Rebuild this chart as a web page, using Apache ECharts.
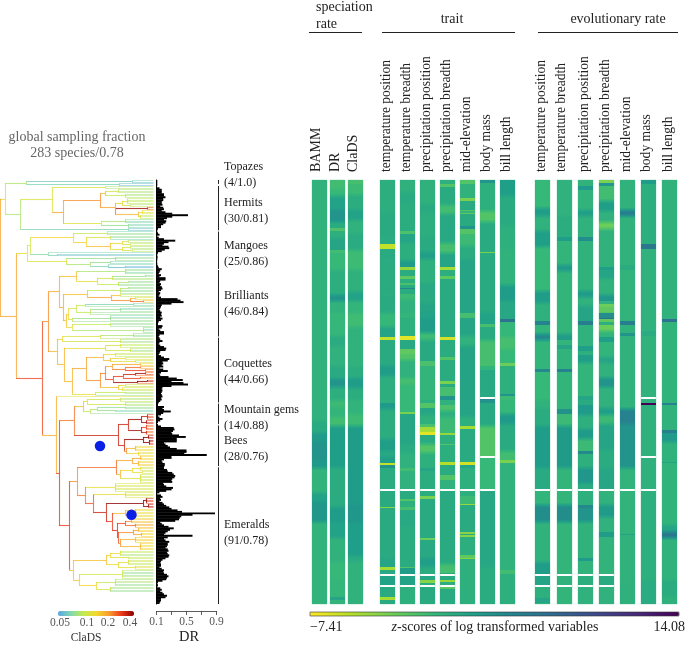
<!DOCTYPE html>
<html><head><meta charset="utf-8">
<style>html,body{margin:0;padding:0;background:#fff}#c{width:686px;height:647px;filter:blur(.45px)}</style>
<script src="https://cdn.jsdelivr.net/npm/echarts@6/dist/echarts.min.js"></script>
</head><body><div id="c"></div>
<script>
// ---------- tree: [age, ClaDS rate, ...children]; a bare number is a tip with its ClaDS rate
const topazes=[26,.09,[132,.065,.07,.06],[119,.07,.06,.055]];
const hermits=[20,.09,
 [52,.12,[105,.12,.09,.09],
  [63,.2,
   [100,.22,
    [105,.17,[118,.11,.09,.09,.09],[125,.1,.09,.09,.09]],
    [115,.2,[122,.14,[127,.12,.1,.1,.1,.1],[130,.11,.09,.1]],
     [115,.24,[147,.4,.3,.25],[138,.18,[142,.14,.13,.13,.12],[140,.12,.1,.1,.1]]]]],
   [101,.12,[125,.09,.08,.07,.07],[128,.08,.07,.07,.07]]]],
 [128,.07,.06,.06]];
const mangoes=[27,.13,
 [30,.11,
  [73,.15,[107,.1,.07,.08,.08],
   [86,.15,[110,.12,.08,.08,.07],
    [110,.17,[122,.14,[128,.11,.09,.09],[130,.12,.1,.1]],[122,.14,[130,.11,.09,.09],[132,.12,.09,.1]]]]],
  [48,.075,.07,[57,.07,.06,.06]]],
 [66,.12,[115,.08,.08,.08,.08],[90,.09,[110,.08,.07,.07],[108,.07,.07,[125,.06,.06,.05]]]]];
const brilliants=[59,.19,
 [76,.17,[125,.09,.08,.08,.07,.08],
  [97,.13,[112,.11,[145,.08,.08,.08],.09,.09],[118,.1,[128,.09,.08,.08],.08,.08]]],
 [63,.19,
  [87,.17,[120,.1,[128,.09,.08,.08],.08,.08,.08],
   [111,.2,[120,.17,.1,.1],[130,.22,[135,.17,.13,.12],[143,.25,.17,.16]]]],
  [66,.17,
   [68,.15,
    [76,.11,[85,.1,[133,.07,.07,.07],.08],[90,.1,[120,.08,.07,.07,.08],.08,.08]],
    [72,.11,[110,.08,.07,.07,.08,.08],.08]],
   [72,.13,[110,.1,.08,.08,.08],[143,.09,.08,.07,.08,.08]]]]];
const coquettes=[57,.18,
 [62,.15,[100,.12,[133,.09,.08,.08,.08],.09],[120,.11,.09,.08,.09]],
 [64,.18,
  [105,.13,[120,.12,.1,.1,.1],[130,.11,.09,.08,.09]],
  [72,.18,
   [86,.2,
    [103,.18,[115,.13,.1,.1,.1],[110,.17,[125,.14,.11,.12],[135,.13,.11,.1]]],
    [100,.22,
     [105,.24,[112,.2,[140,.2,.15,.15],[125,.24,[140,.25,.2,.2],[145,.3,.22,.25]]],
      [113,.28,[123,.3,[135,.35,[145,.4,.25,.3],.24],[140,.3,.22,.2]],[137,.4,[147,.5,.3,.35],.25]]],
     [118,.17,[125,.13,.11,.11],[122,.14,.12,.11,.1]]]],
   [95,.13,[125,.1,.09,.09],.08]]]];
const mountainGems=[83,.17,
 [87,.14,[120,.11,.09,.09,.1],[125,.11,.09,.09,.09]],
 [90,.1,[97,.09,[125,.08,.08,.08],[115,.08,.07,.07]],.08]];
const bees=[118,.34,
 [128,.34,[141,.4,[147,.35,.3,.28,.3,.27],[146,.4,.3,.32,.35]],[141,.38,[146,.3,.25,.22,.28,.25],[146,.35,.25,.24,.22]]],
 [124,.34,[143,.42,[148,.45,.35,.4,.3],[149,.5,.4,.35,.3,.28]],[126,.22,[135,.18,.15,.14,.14,.15],[138,.15,.13,.13,.14]]]];
const emeralds=[69,.3,
 [77,.22,
  [116,.25,[132,.2,[140,.2,.15,.14,.15],[138,.19,.14,.16,.15,.16]],
   [120,.18,[132,.14,[140,.14,.12,.11,.11],[142,.13,.11,.12]],[140,.12,.1,.11,.11,.1,.11,.11]]],
  [85,.24,[115,.13,.12,.12,.11,.12,.11,.11],
   [93,.27,[125,.13,.12,.12,.11,.12],
    [106,.34,
     [143,.42,[146,.45,.35,.3,.3,.28],[148,.5,.35,.4,.3]],
     [112,.3,[125,.18,[135,.17,.14,.13,.14],[132,.16,.14,.15,.13,.14]],
      [117,.32,[125,.28,[131,.22,.17,.16,.18],[135,.25,.2,.18,.19]],
       [118,.28,[133,.22,[138,.2,.16,.15,.16],[141,.2,.15,.14,.15]],
        [120,.22,[135,.18,.16,.15,.16,.15],[140,.18,.15,.14,.14,.15,.15]]]]]]]]],
 [73,.17,
  [106,.17,[110,.15,[120,.13,.1,.1,.09,.09],[128,.12,.1,.1]],[118,.14,[128,.12,.11,.11,.1,.1],[135,.13,.12,.12,.11]]],
  [79,.16,[122,.11,.09,.08,.08,.08,.09,.09],[96,.15,[115,.1,.09,.09,.09,.08,.08],[110,.11,.09,.08,.08,.08]]]]];
const tree=[0,.2,
 [5,.12,topazes,hermits],
 [16,.2,mangoes,
  [42,.28,
   [48,.22,brilliants,coquettes],
   [56,.19,.13,[59,.3,[74,.24,mountainGems,bees],emeralds]]]]];

const blueNodes=[[100,177.5],[131.5,223.5]];
// ---------- DR per tip, top to bottom
const drValues=[.11,.11,.11,.11,.105,
 .14,.17,.17,.17,.2,.2,.22,.19,.19,.17,.17,.18,.15,.19,.2,.17,.22,.31,.52,.31,.24,.2,.23,.22,.19,.16,.16,.12,.11,
 .11,.12,.14,.11,.13,.2,.35,.26,.2,.18,.26,.27,.21,.17,.12,.11,.11,.115,.11,.11,.105,.11,.11,.12,.13,
 .17,.15,.14,.13,.16,.14,.22,.22,.15,.14,.16,.15,.17,.18,.16,.13,.15,.14,.13,.16,.38,.42,.46,.3,.17,.16,.15,.14,.15,.17,.16,.17,.15,.18,.16,.13,.12,.12,.18,.17,.13,.15,.2,.2,.14,.13,
 .14,.15,.18,.14,.13,.15,.2,.23,.22,.15,.14,.13,.16,.2,.27,.25,.18,.19,.17,.19,.14,.19,.25,.16,.14,.15,.26,.37,.45,.3,.46,.52,.3,.18,.17,.18,.17,.16,.17,.18,.16,.17,.15,.13,
 .12,.12,.2,.18,.2,.29,.19,.16,.12,.14,.18,.15,.12,.11,
 .12,.16,.33,.34,.32,.3,.31,.4,.49,.37,.37,.37,.2,.22,.25,.28,.37,.5,.5,.47,.77,.3,.3,.2,.17,.18,.21,.21,
 .2,.2,.24,.25,.31,.33,.35,.34,.31,.3,.31,.19,.2,.23,.32,.3,.23,.14,.11,.16,.18,.15,.16,.14,.18,.2,.23,.27,.3,.38,.44,.88,.58,.43,.41,.4,.35,.15,.17,.2,.26,.33,.28,.25,.22,.2,.58,.25,.2,.22,.27,.25,.25,.24,.22,.25,.26,.24,.25,.27,.26,.22,.18,.16,.15,.16,.16,.14,.17,.2,.19,.2,.24,.26,.24,.23,.18,.12,.11,.12,.11,.15,.17,.15,.18,.2,.24,.22,.16,.16,.15,.14];
const drTicks=[.1,.3,.5,.7,.9], drLabels=[.1,.5,.9];

// ---------- heat columns as runs: startRow, z, startRow, z ... (null = no data)
const bamm=[0,.2,147,.3,161,1,169,2.4,175,3,186,2.6,192,.1,209,1.8,215,2.8,228,.1];
const drZ=[0,-.8,6,-.3,11,1.8,20,3,28,.8,32,-1.3,34,.5,39,1.5,47,-.8,49,-.3,60,.6,77,3.2,81,.2,89,-.2,104,.9,111,.3,124,1,133,3,138,.6,147,-.5,152,0,158,-.8,164,2,192,.8,218,2.2,228,1.8,239,.2,255,-.3,267,-.1,278,1.5,280,0];
const clads=[0,-1,3,-.5,10,.7,20,1.8,27,.3,36,.9,47,-.6,60,.4,75,1.8,81,0,89,-.7,98,.2,124,.7,132,2.2,139,.7,147,.1,156,-.6,164,2.2,216,2.8,228,2.1,251,1,255,.2];
const tTempPos=[0,.6,22,1,39,.8,43,-5.5,46,1,53,.8,77,1,89,-.2,98,1.5,105,-5.5,107,1,124,2.2,131,.6,147,.5,149,2.5,153,.7,173,2,181,1.2,185,2,189,-5.5,190,3,192,.8,206,null,207.4,1,218,-3.5,219,1,253,1.5,258,-4.5,260,1.2,263,null,264.4,1.8,270.3,null,271.4,1,278,-4.5,280,1];
const tTempBr=[0,.4,8,1,16,.7,34,-1.2,36,1.5,42,.6,54,2.5,58,-4,60,.8,64,-2,66,.6,69,-1.2,70,.8,72,4,73,.8,76,-.5,80,.3,89,0,92,.5,104,-6.5,107,1.2,113,-2,116,-1.5,120,.3,132,-1,136,-.3,155,-3,156,1.4,176,.9,182,.3,192,-.8,194,.3,206,null,207.4,1,213,-1.5,214,.5,218,-1,220,1.2,231,.8,258,-1.5,259,2.2,263,null,264.4,1.8,270.3,null,271.4,.5];
const tPrecPos=[0,.4,16,1,22,.6,38,1,48,2,53,.5,69,1.2,76,1,82,1.6,89,1.8,93,2.2,102,-.7,107,1.1,121,-1.2,124,0,147,.5,149,-1.5,152,1.4,157,.4,163,-1.2,165,-4.5,168,-6.5,170,1,176,-1.5,182,.5,192,1.5,194,.7,206,null,207.4,.7,211,-3,213,1,239,-2.5,240,1.2,252,2,258,.8,263,null,264.4,1.3,267,-3.5,269,.5,270.3,null,271.4,1];
const tPrecBr=[0,.5,3,-1.5,5,1,17,-.8,23,1.2,42,-1,49,1.5,58,-4.5,60,.6,64,-2,66,1,105,-6,107,.8,118,-1.5,120,.8,134,-3,136,1,138,-1,144,3,147,.3,150,-1.2,154,.6,158,-.5,169,-4,170,.5,176,-1.5,177,.6,188,-5,190,.8,197,-1.5,200,.3,206,null,207.4,1,256,-1,262,1,263,null,264.4,1,267,-4,268,.6,270.3,null,271.4,-1.8,273,1];
const tElev=[0,-1.5,3,.2,12,-3,14,1,20,-1.5,21,0,22,-2,23,1,31,3,33,-1.5,36,-.5,44,.8,53,1.5,89,-1,92,1.5,104,.3,111,1.6,147,1.5,158,.5,164,-4.5,166,1,188,-6,190,1.5,192,.5,206,null,207.4,.5,211,-.5,216,-4,217,1,235,-3.5,236,1,237,-3.5,238,.6,250,-2,252,-3.5,253,.5];
const tMass=[0,3,2,.5,21,-1.5,28,1,48,-3,49,1,89,1.8,96,-1,98,1,107,-1,124,0,127,1.2,145,null,146,4,147,3,149,1.2,164,-1.5,184,null,185.4,-.3,206,null,207.4,1.3,258,.8];
const tBill=[0,2,11,1,31,.5,47,.2,70,2.2,81,1.3,93,6,95,-.2,105,-1,113,-.3,122,-2.5,124,.5,143,3,144,-.5,147,-.2,156,2.5,163,1,181,-.8,187,-3,189,.2,260,-.8,263,.5];
const eTempPos=[0,-.3,19,2.2,24,.3,34,2,45,-.3,74,2.2,82,.4,94,4.5,97,0,103,4,107,0,126,4,128,-.3,147,.2,152,.8,164,2.2,192,1,206,null,207.4,0,217,3.6,228,.2,255,2.2,263,null,264.4,1.5,270.3,null,271.4,.5,279,1.5,282,.3];
const eTempBr=[0,.3,24,.7,38,2,41,0,57,2.5,61,0,103,2.2,107,0,110,1.5,113,.1,126,4.5,128,0,147,.1,153,3.2,156,-.5,164,2.4,192,0,206,null,207.4,0,217,3.6,228,0,263,null,264.4,.2,270.3,null,271.4,0];
const ePrecPos=[0,.2,4,2.5,7,.1,20,2,24,.3,38,3.5,41,.2,74,2.5,78,.3,84,1.5,94,5,97,.3,111,2,114,.5,117,2,122,0,144,1.5,147,1,150,2.5,157,.5,166,2.3,173,-.5,181,4,183,.5,192,2.8,202,1,206,null,207.4,.5,217,4,219,3,228,.2,252,2.5,254,.1,263,null,264.4,.6,270.3,null,271.4,.3];
const ePrecBr=[0,-3,2,2.8,4,-.8,14,2,21,.3,28,-2.5,33,.2,58,2,60,1.5,66,.2,77,2.8,81,.3,83,-2.5,85,-2,88,-1.5,89,3.5,92,6,93,-2,95,.5,97,-2.5,101,0,105,2,108,0,118,1.5,122,.3,132,3,138,.3,152,2,157,-.5,163,1.5,180,.8,192,1.4,206,null,207.4,.2,217,2.4,225,.3,235,2.2,238,.1,263,null,264.4,1,270.3,null,271.4,.3];
const eElev=[0,.2,20,5,24,.2,57,.8,60,.1,94,5,97,.2,102,3,104,.2,153,4.5,163,3,192,.1,206,null,207.4,.1,236,1.8,237,.2,268,.4];
const eMass=[0,2.2,3,.6,43,5.5,46,.3,101,.9,104,.2,145,null,146,.3,149,14,150,.4,184,null,185.4,.4,206,null,207.4,.5,267,.9];
const eBill=[0,.2,93,6,95,.1,149,4.5,150,.2,167,4.8,169,2.5,175,.2,188,1.8,189,.1,230,1.5,235,5.5,239,.2,267,.8,278,.4];

const colNames=['BAMM','DR','ClaDS','temperature position','temperature breadth','precipitation position','precipitation breadth','mid-elevation','body mass','bill length','temperature position','temperature breadth','precipitation position','precipitation breadth','mid-elevation','body mass','bill length'];
const colRuns=[bamm,drZ,clads,tTempPos,tTempBr,tPrecPos,tPrecBr,tElev,tMass,tBill,eTempPos,eTempBr,ePrecPos,ePrecBr,eElev,eMass,eBill];
const colLefts=[312,330,348,380,400,420,440,460,480,500,535,557,578,599,620,641,662];
const cladeNames=[['Topazes','(4/1.0)',167],['Hermits','(30/0.81)',203],['Mangoes','(25/0.86)',246],['Brilliants','(46/0.84)',296],['Coquettes','(44/0.66)',364],['Mountain gems','(14/0.88)',410],['Bees','(28/0.76)',441],['Emeralds','(91/0.78)',525]];
const cladeSpans=[[0,2.6],[4,33.6],[34.4,59.4],[60,104.5],[105.2,148.5],[149.2,163],[163.8,191],[191.8,283]];
const zMin=-7.41,zMax=14.08;
const viridisRev=['#fde725','#b5de2b','#6ece58','#35b779','#1f9e89','#26828e','#31688e','#3e4989','#482878','#440154'];
const claDSStops=['#5aa6e6','#80d8b0','#c4ea50','#f2d92e','#f8a030','#ee3a1c','#8a0000'];

// ---------- build
const SERIF='"Liberation Serif",serif';
const TIP=153.5, ROWS=283;
function rateT(r){return Math.max(0,Math.min(1,Math.log2(r/.05)/3.07));}
function rateColor(r){return echarts.color.lerp(rateT(r),claDSStops);}
const segs=[];let row=0;
function add(a,b,r,o){segs.push({coords:[a,b],lineStyle:{color:rateColor(r),opacity:o}});}
function walk(n,px){
  if(typeof n==='number'){const y=row+++.5;add([px,y],[TIP,y],n,.5);return y;}
  const x=n[0],r=n[1],ys=n.slice(2).map(k=>walk(k,x));
  const y=(ys[0]+ys[ys.length-1])/2;
  add([x,ys[0]],[x,ys[ys.length-1]],r,.78);add([px,y],[x,y],r,.78);return y;
}
walk(tree,0);
const rows=Array.from({length:ROWS},(_,i)=>i);
function zColor(z){return echarts.color.lerp((z-zMin)/(zMax-zMin),viridisRev);}
// each run becomes [startRow, endRow, z, zAbove, zBelow]; neighbours only when the run is wide enough to blend
function toCells(runs){const out=[];for(let i=0;i<runs.length;i+=2){const z=runs[i+1];if(z===null)continue;
  const e=i+2<runs.length?runs[i+2]:ROWS;
  const wide=j=>{if(j<0||j>=runs.length||runs[j+1]===null)return false;const en=j+2<runs.length?runs[j+2]:ROWS;return en-runs[j]>=4;};
  const self=e-runs[i]>=4;
  out.push([runs[i],e,z,self&&wide(i-2)?runs[i-1]:z,self&&wide(i+2)?runs[i+3]:z]);}return out;}
function renderRun(params,api){
  const a=api.coord([0,api.value(0)]),b=api.coord([1,api.value(1)]);
  const y0=Math.round(a[1]),y1=Math.round(b[1]),h=Math.max(1,y1-y0);
  const z=api.value(2),zu=api.value(3),zd=api.value(4);
  const edge=Math.min(.4,2.5/h);
  const fill=new echarts.graphic.LinearGradient(0,0,0,1,[
    {offset:0,color:zColor((z+zu)/2)},{offset:edge,color:zColor(z)},
    {offset:1-edge,color:zColor(z)},{offset:1,color:zColor((z+zd)/2)}]);
  return {type:'rect',shape:{x:a[0],y:y0,width:b[0]-a[0],height:h},style:{fill}};
}

const grids=[{left:0,top:180,width:154,height:424},{left:156.5,top:180,width:60,height:424}];
const xAxes=[{gridIndex:0,type:'value',min:0,max:154,show:false},
 {gridIndex:1,type:'value',min:.1,max:.9,offset:7,position:'bottom',splitLine:{show:false},
  axisLine:{show:true,onZero:false,lineStyle:{color:'#333',width:.8}},
  axisTick:{show:true,length:4,lineStyle:{color:'#333',width:.8},customValues:drTicks},
  axisLabel:{color:'#555',fontFamily:SERIF,fontSize:11.5,margin:5,customValues:drLabels,formatter:v=>String(v),hideOverlap:false}}];
const yAxes=[{gridIndex:0,type:'value',min:0,max:ROWS,inverse:true,show:false},
 {gridIndex:1,type:'category',data:rows,inverse:true,axisLine:{show:true,lineStyle:{color:'#000',width:1}},axisTick:{show:false},axisLabel:{show:false}}];
const series=[
 {type:'lines',coordinateSystem:'cartesian2d',xAxisIndex:0,yAxisIndex:0,polyline:false,clip:false,silent:true,lineStyle:{width:1.1},data:segs,z:3},
 {type:'lines',coordinateSystem:'cartesian2d',xAxisIndex:0,yAxisIndex:0,polyline:false,clip:false,silent:true,lineStyle:{width:1,color:'#222',opacity:1},data:cladeSpans.map(s=>({coords:[[218,s[0]],[218,s[1]]]})),z:3},
 {type:'scatter',xAxisIndex:0,yAxisIndex:0,data:blueNodes,symbol:'circle',symbolSize:10.5,itemStyle:{color:'#0a20e6',opacity:1},clip:false,z:5},
 {type:'bar',xAxisIndex:1,yAxisIndex:1,data:drValues,barWidth:'130%',itemStyle:{color:'#000'},silent:true,z:4}
];
colRuns.forEach((runs,i)=>{
  const gi=grids.length;
  grids.push({left:colLefts[i],top:180,width:15,height:424,show:true,borderColor:'#c4ead8',borderWidth:1,backgroundColor:'#fff'});
  xAxes.push({gridIndex:gi,type:'value',min:0,max:1,show:false});
  yAxes.push({gridIndex:gi,type:'value',min:0,max:ROWS,inverse:true,show:false});
  series.push({type:'custom',name:colNames[i],xAxisIndex:gi,yAxisIndex:gi,data:toCells(runs),renderItem:renderRun,silent:true,clip:true,encode:{x:[],y:[0,1]},dimensions:['start','end','z','zAbove','zBelow']});
});

const g=[];
function T(text,x,y,o){o=o||{};g.push({type:'text',x,y,rotation:o.rot||0,silent:true,z:20,style:Object.assign({text,fill:o.fill||'#222',font:(o.size||14)+'px '+SERIF,textAlign:o.align||'left',textVerticalAlign:'middle'},o.rich?{rich:o.rich}:{})});}
function L(x1,y1,x2,y2){g.push({type:'line',silent:true,z:20,shape:{x1,y1,x2,y2},style:{stroke:'#222',lineWidth:1}});}
T('speciation',316,7);T('rate',316,24);
T('trait',452,19,{align:'center'});T('evolutionary rate',618,19,{align:'center'});
L(309,32.5,362,32.5);L(382,32.5,515,32.5);L(538,32.5,678,32.5);
const headX=[316.7,335,353,386.7,406.7,426.7,446.7,466.7,486.7,506.7,541.7,561.7,584,605,626.7,646.7,668.3];
colNames.forEach((n,i)=>T(n,headX[i],172,{rot:Math.PI/2,size:i<3?14:13.6}));
T('global sampling fraction',77,137,{align:'center',fill:'#666',size:14});
T('283 species/0.78',77,153,{align:'center',fill:'#666',size:14});
cladeNames.forEach(c=>{T(c[0],224,c[2],{size:12});T(c[1],224,c[2]+16,{size:12});});
[['0.05',60],['0.1',87],['0.2',108],['0.4',130]].forEach(a=>T(a[0],a[1],623,{align:'center',fill:'#555',size:11.5}));
T('ClaDS',86,638,{align:'center',fill:'#333',size:11.5});
T('DR',189,637,{align:'center',size:14.5});
T(String(zMin).replace('-','\u2212'),310,627,{size:14});
T(String(zMax),685,627,{align:'right',size:14});
T('{i|z}-scores of log transformed variables',495,627,{align:'center',size:14,rich:{i:{font:'italic 14px '+SERIF,fill:'#222'}}});
g.push({type:'rect',silent:true,z:20,shape:{x:310,y:612,width:369,height:4},style:{fill:'none',stroke:'#333',lineWidth:.6}});

const chart=echarts.init(document.getElementById('c'),null,{renderer:'canvas'});
chart.setOption({animation:false,backgroundColor:'#fff',textStyle:{fontFamily:SERIF},
 grid:grids,xAxis:xAxes,yAxis:yAxes,series,graphic:g,
 visualMap:[
  {type:'continuous',min:zMin,max:zMax,seriesIndex:[],inRange:{color:viridisRev},orient:'horizontal',left:310,top:612,itemWidth:4,itemHeight:369,calculable:false,showLabel:false,text:null,padding:0,hoverLink:false,realtime:false},
  {type:'continuous',min:0,max:1,seriesIndex:[],inRange:{color:claDSStops},orient:'horizontal',left:58,top:611,itemWidth:5,itemHeight:76,calculable:false,showLabel:false,text:null,padding:0,hoverLink:false}
 ]});
</script></body></html>
